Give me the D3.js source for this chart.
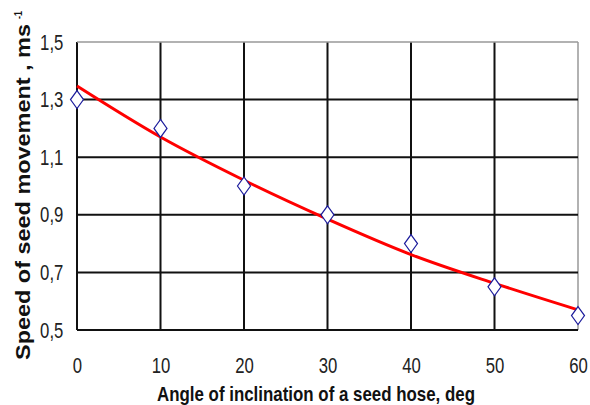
<!DOCTYPE html>
<html>
<head>
<meta charset="utf-8">
<script src="https://cdn.jsdelivr.net/npm/d3@7"></script>
<style>
  body { margin: 0; background: #fff; }
  .title { font-family: "Liberation Sans", Arial, sans-serif; font-weight: bold; fill: #111; }
</style>
</head>
<body>
<script>
var svgWidth = 590;
var svgHeight = 405;

// measured points
var angles = [0, 10, 20, 30, 40, 50, 60];
var speeds = [1.3, 1.2, 1.0, 0.9, 0.8, 0.65, 0.55];

// trend curve
var trendAngles = [0, 10, 20, 30, 40, 50, 60];
var trendSpeeds = [1.347, 1.17, 1.02, 0.885, 0.762, 0.662, 0.57];

var xTicks = [0, 10, 20, 30, 40, 50, 60];
var yTicks = [0.5, 0.7, 0.9, 1.1, 1.3, 1.5];

var margin = { top: 42, right: 12, bottom: 75, left: 77 };
var width = 578 - margin.left;
var height = 330 - margin.top;
var squeeze = 0.76; // the original type is narrow

var svg = d3.select("body")
  .append("svg")
  .attr("width", svgWidth)
  .attr("height", svgHeight);

var g = svg.append("g")
  .attr("transform", "translate(" + margin.left + "," + margin.top + ")");

var x = d3.scaleLinear().domain([0, 60]).range([0, width]);
var y = d3.scaleLinear().domain([0.5, 1.5]).range([height, 0]);

// grid
g.selectAll(".vgrid")
  .data(xTicks)
  .enter()
  .append("line")
  .attr("x1", function (d) { return x(d); })
  .attr("x2", function (d) { return x(d); })
  .attr("y1", 0)
  .attr("y2", height)
  .attr("stroke", function (d) { return d === 60 ? "#999" : "#111"; })
  .attr("stroke-width", function (d) { return d === 60 ? 1.5 : 2; });

g.selectAll(".hgrid")
  .data(yTicks)
  .enter()
  .append("line")
  .attr("x1", 0)
  .attr("x2", width)
  .attr("y1", function (d) { return y(d); })
  .attr("y2", function (d) { return y(d); })
  .attr("stroke", function (d) { return d === 1.5 ? "#999" : "#111"; })
  .attr("stroke-width", function (d) { return d === 1.5 ? 1.5 : 2; });

// axes (labels only)
var bottomAxis = d3.axisBottom(x).tickValues(xTicks).tickSize(0).tickPadding(27)
  .tickFormat(d3.format("d"));
var leftAxis = d3.axisLeft(y).tickValues(yTicks).tickSize(0).tickPadding(18)
  .tickFormat(function (d) { return d3.format(".1f")(d).replace(".", ","); });

g.append("g")
  .attr("transform", "translate(0," + height + ")")
  .call(bottomAxis)
  .call(function (s) { s.select(".domain").remove(); });

g.append("g")
  .call(leftAxis)
  .call(function (s) { s.select(".domain").remove(); });

g.selectAll(".tick text")
  .attr("transform", "scale(" + squeeze + ",1)")
  .style("font-family", "'Liberation Sans', Arial, sans-serif")
  .style("font-size", "22px")
  .style("fill", "#222");

// trend line
var line = d3.line()
  .x(function (d) { return x(d[0]); })
  .y(function (d) { return y(d[1]); })
  .curve(d3.curveMonotoneX);

g.append("path")
  .datum(d3.zip(trendAngles, trendSpeeds))
  .attr("d", line)
  .attr("fill", "none")
  .attr("stroke", "#ff0000")
  .attr("stroke-width", 3);

// diamond markers
g.selectAll(".pt")
  .data(d3.zip(angles, speeds))
  .enter()
  .append("path")
  .attr("transform", function (d) { return "translate(" + x(d[0]) + "," + y(d[1]) + ")"; })
  .attr("d", "M0,-9L6.5,0L0,9L-6.5,0Z")
  .attr("fill", "#fff")
  .attr("stroke", "#1c1c9c")
  .attr("stroke-width", 1.2);

// X axis label
svg.append("text")
  .attr("class", "title")
  .attr("x", 157)
  .attr("y", 401)
  .style("font-size", "20.5px")
  .attr("textLength", 318)
  .attr("lengthAdjust", "spacingAndGlyphs")
  .text("Angle of inclination of a seed hose, deg");

// Y axis label
svg.append("text")
  .attr("class", "title")
  .attr("transform", "translate(30,360) rotate(-90)")
  .style("font-size", "20px")
  .attr("textLength", 336)
  .attr("lengthAdjust", "spacingAndGlyphs")
  .text("Speed of seed movement , ms");

svg.append("text")
  .attr("class", "title")
  .attr("transform", "translate(22,19) rotate(-90)")
  .style("font-size", "11px")
  .attr("textLength", 8)
  .attr("lengthAdjust", "spacingAndGlyphs")
  .text("-1");
</script>
</body>
</html>
